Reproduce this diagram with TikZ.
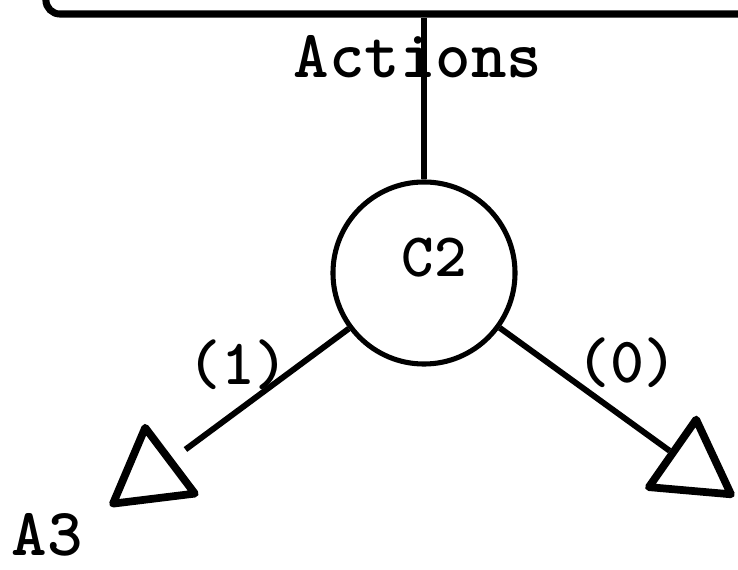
\documentclass[tikz,border=0pt]{standalone}
\usepackage{fontspec}
\usetikzlibrary{shapes.geometric}

\begin{document}
\begin{tikzpicture}[
    x=0.025cm, y=-0.025cm,
    every node/.style={font=\ttfamily\bfseries\fontsize{46}{50}\selectfont},
    big/.style={font=\ttfamily\bfseries\fontsize{48}{52}\selectfont},
    small/.style={font=\ttfamily\bfseries\fontsize{44}{48}\selectfont},
    ring/.style={circle, draw, line width=3.6pt, minimum size=4.55cm},
    leaf/.style={regular polygon, regular polygon sides=3, draw, line width=5.5pt,
                 minimum size=2.38cm, inner sep=0pt, line join=round},
    wire/.style={line width=4.2pt},
]
  \useasboundingbox (0,0) rectangle (738,570);

  % Box (cut off)
  \node[draw, line width=5pt, rounded corners=0.35cm, minimum width=18.8cm,
        minimum height=2.6cm] (box) at (422,-38) {};
  \node[big, anchor=base] (actions) at (418,78) {Actions};

  % Chance node
  \node[ring] (C2) at (424,273) {};
  \node[small, anchor=base] (c2txt) at (434,277) {C2};

  % Leaves
  \node[leaf, shape border rotate=7] (A3) at (151,475) {};
  \node[leaf, shape border rotate=-5] (A4) at (692,467) {};
  \node[big, anchor=base] (a3txt) at (47,555) {A3};

  % Branches
  \draw[wire] (C2) -- (C2 |- box.south);
  \draw[wire, shorten >=0.38cm] (C2) -- (A3);
  \draw[wire] (C2) -- (A4);
  \node[anchor=base] (one) at (238,385) {(1)};
  \node[anchor=base] (zero) at (627,383) {(0)};
\end{tikzpicture}
\end{document}
